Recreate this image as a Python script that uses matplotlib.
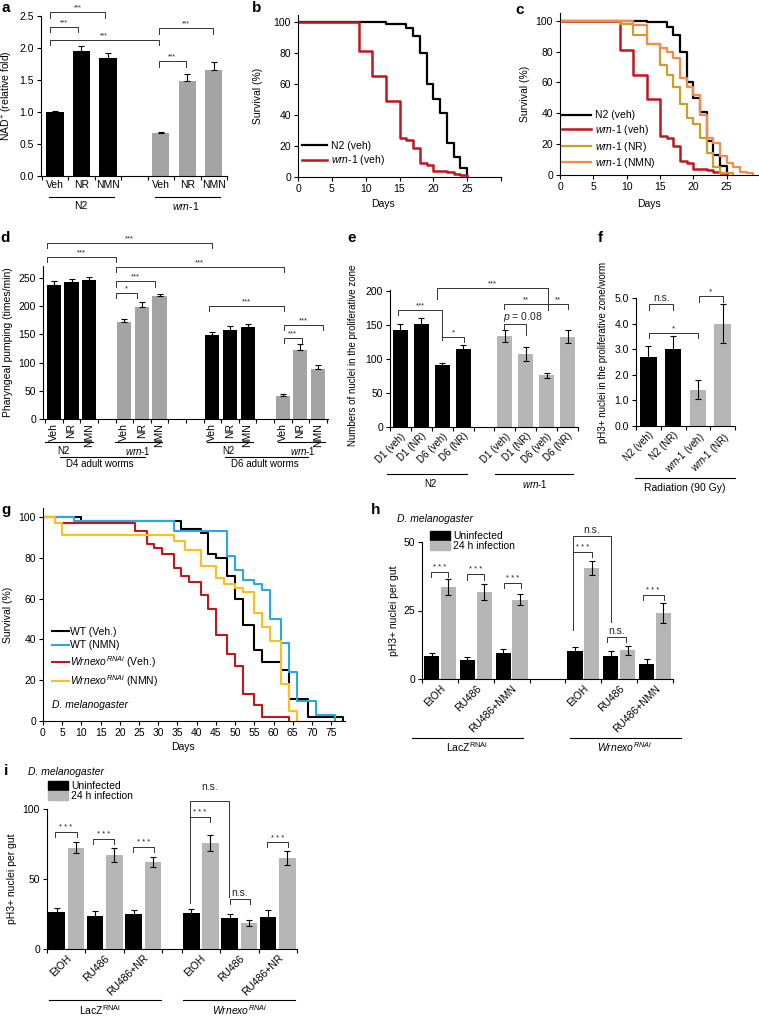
import matplotlib
matplotlib.use('Agg')
import matplotlib.pyplot as plt
import matplotlib.transforms as mtransforms
from matplotlib.lines import Line2D
from matplotlib.patches import Patch
from matplotlib.ticker import FormatStrFormatter
import numpy as np

plt.rcParams['font.family'] = ['Liberation Sans', 'DejaVu Sans']
plt.rcParams['mathtext.fontset'] = 'custom'
plt.rcParams['mathtext.rm'] = 'Liberation Sans'
plt.rcParams['mathtext.it'] = 'Liberation Sans:italic'
plt.rcParams['mathtext.bf'] = 'Liberation Sans:bold'
plt.rcParams['font.size'] = 7
plt.rcParams['axes.linewidth'] = 0.8

WRN = r'$\mathit{wrn}$-$\mathit{1}$'
WRNEXO = r'$\mathit{Wrnexo}^{RNAi}$'
LACZ = r'LacZ$^{\mathrm{RNAi}}$'

# ---- data ----
# a: NAD+ levels
a_labels = ['Veh', 'NR', 'NMN']
a_n2 = [1.0, 1.96, 1.84]
a_n2_err = [0.02, 0.07, 0.08]
a_wrn = [0.67, 1.48, 1.66]
a_wrn_err = [0.02, 0.11, 0.12]

# b/c: worm lifespan (day, % survival)
n2_days = [0, 13, 16, 17, 18, 19, 20, 21, 22, 23, 24, 25]
n2_surv = [100, 99, 96, 91, 80, 60, 50, 41, 22, 13, 6, 0]
wrn_days = [0, 9, 11, 13, 15, 16, 17, 18, 19, 20, 22, 23, 24, 25]
wrn_surv = [100, 81, 65, 49, 25, 24, 19, 9, 8, 4, 3, 2, 1, 0]
wrn_nr_days = [0, 9, 11, 13, 15, 16, 17, 18, 19, 20, 21, 22, 23, 24, 26]
wrn_nr_surv = [100, 98, 91, 85, 71, 65, 57, 46, 37, 33, 24, 14, 5, 1, 0]
wrn_nmn_days = [0, 11, 13, 15, 16, 17, 18, 19, 20, 21, 22, 23, 24, 25, 26, 27, 28, 29]
wrn_nmn_surv = [100, 97, 85, 82, 80, 76, 63, 57, 52, 39, 24, 21, 12, 8, 5, 2, 1, 0]

# d: pharyngeal pumping
d_labels = ['Veh', 'NR', 'NMN']
d4_n2 = [238, 243, 246]
d4_n2_err = [6, 5, 5]
d4_wrn = [171, 198, 217]
d4_wrn_err = [6, 9, 4]
d6_n2 = [148, 158, 163]
d6_n2_err = [6, 6, 6]
d6_wrn = [41, 123, 88]
d6_wrn_err = [4, 10, 8]

# e: nuclei in proliferative zone
e_labels = ['D1 (veh)', 'D1 (NR)', 'D6 (veh)', 'D6 (NR)']
e_n2 = [143, 151, 91, 115]
e_n2_err = [8, 10, 3, 5]
e_wrn = [134, 107, 76, 133]
e_wrn_err = [9, 10, 4, 10]

# f: pH3+ after radiation
f_labels = ['N2 (veh)', 'N2 (NR)', WRN + ' (veh)', WRN + ' (NR)']
f_vals = [2.68, 3.0, 1.42, 4.0]
f_err = [0.43, 0.53, 0.38, 0.75]

# g: fly lifespan
wt_veh_days = [0, 10, 36, 41, 43, 45, 48, 50, 52, 55, 57, 62, 64, 69, 78]
wt_veh_surv = [100, 98, 94, 92, 82, 80, 71, 60, 47, 35, 29, 25, 11, 2, 0]
wt_nmn_days = [0, 8, 34, 48, 50, 52, 55, 57, 59, 62, 64, 66, 71, 76]
wt_nmn_surv = [100, 98, 93, 81, 74, 69, 67, 64, 50, 38, 24, 10, 3, 0]
wx_veh_days = [0, 3, 24, 27, 29, 31, 34, 36, 38, 41, 43, 45, 48, 50, 52, 55, 57, 64]
wx_veh_surv = [100, 97, 93, 87, 85, 82, 75, 71, 68, 62, 55, 42, 33, 27, 13, 8, 2, 0]
wx_nmn_days = [0, 3, 5, 34, 37, 41, 45, 47, 50, 52, 55, 57, 59, 62, 64, 66]
wx_nmn_surv = [100, 97, 91, 88, 84, 76, 70, 67, 65, 63, 53, 46, 39, 18, 5, 0]

# h: pH3+ per gut (NMN)
h_labels = ['EtOH', 'RU486', 'RU486+NMN']
h_lacz_un = [8.3, 6.9, 9.5]
h_lacz_un_err = [1.2, 1.0, 1.5]
h_lacz_in = [33.5, 31.8, 29.0]
h_lacz_in_err = [2.9, 2.9, 2.0]
h_wx_un = [10.1, 8.3, 5.6]
h_wx_un_err = [1.6, 1.9, 1.6]
h_wx_in = [40.5, 10.5, 24.0]
h_wx_in_err = [2.6, 1.6, 3.6]

# i: pH3+ per gut (NR)
i_labels = ['EtOH', 'RU486', 'RU486+NR']
i_lacz_un = [26.5, 23.9, 25.3]
i_lacz_un_err = [3.0, 3.2, 2.8]
i_lacz_in = [72.5, 67.0, 62.3]
i_lacz_in_err = [4.1, 5.0, 3.6]
i_wx_un = [26.0, 22.0, 22.9]
i_wx_un_err = [2.9, 3.3, 5.2]
i_wx_in = [75.9, 18.6, 65.2]
i_wx_in_err = [5.6, 2.0, 5.0]

BLACK = '#000000'
GRAY = '#a4a4a4'
LGRAY = '#b6b6b6'
RED = '#c0161c'
GOLD = '#c9a126'
ORANGE = '#f28b4c'
BLUE = '#2aa8e0'
YELLOW = '#fdbf1c'

W, H = 759, 1016
fig = plt.figure(figsize=(W / 100, H / 100), dpi=100)
pix = mtransforms.Affine2D().scale(1 / W, -1 / H).translate(0, 1) + fig.transFigure


def add_ax(x0, y0, x1, y1):
    ax = fig.add_axes([x0 / W, 1 - y1 / H, (x1 - x0) / W, (y1 - y0) / H])
    ax.spines['top'].set_visible(False)
    ax.spines['right'].set_visible(False)
    ax.tick_params(direction='out', length=3, width=0.8, labelsize=7.5, pad=2)
    ax._px = (x0, y0, x1, y1)
    return ax


def ylab(ax, text, xpx, ypx=None):
    # xpx is the centre of the rotated label in reference pixels
    x0, y0, x1, y1 = ax._px
    ax.set_ylabel(text, fontsize=7.5)
    yc = 0.5 if ypx is None else (y1 - ypx) / (y1 - y0)
    ax.yaxis.set_label_coords((xpx + 5 - x0) / (x1 - x0), yc)


def group_axis(ax, centers, labels, bounds, rot):
    if rot == 90:
        ax.set_xticks(centers, labels, rotation=90, fontsize=7.5)
    elif rot == 45:
        ax.set_xticks(centers, labels, rotation=45, ha='right', rotation_mode='anchor', fontsize=7.5)
    else:
        ax.set_xticks(centers, labels, fontsize=7.5)
    ax.tick_params(axis='x', which='major', length=0, pad=3)
    ax.set_xticks(bounds, minor=True)
    ax.tick_params(axis='x', which='minor', length=3, width=0.8, direction='out')


def bars(ax, x, h, err, color, width, both=True):
    ax.bar(x, h, width, color=color, zorder=2)
    e = np.array(err)
    yerr = e if both else [np.zeros(len(e)), e]
    ax.errorbar(x, h, yerr=yerr, fmt='none', ecolor='black', elinewidth=0.8,
                capsize=2.4, capthick=0.8, zorder=3)


def bracket(ax, x1, x2, y, yl, yr, txt, fs=5.5, tx=None, ty=None):
    ax.plot([x1, x1, x2, x2], [yl, y, y, yr], color='#333333', lw=0.7, clip_on=False)
    if ty is None:
        ax.annotate(txt, ((x1 + x2) / 2 if tx is None else tx, y), xytext=(0, 0.5),
                    textcoords='offset points', ha='center', va='bottom', fontsize=fs,
                    color='#222222', annotation_clip=False)
    else:
        ax.text(tx, ty, txt, ha='center', va='center', fontsize=fs, color='#222222', clip_on=False)


def fline(x0, x1, y):
    fig.add_artist(Line2D([x0, x1], [y, y], transform=pix, color='black', lw=0.8))


def ftext(x, y, s, size=7.5, **kw):
    kw.setdefault('ha', 'center')
    fig.text(x, y, s, transform=pix, va='center', fontsize=size, **kw)


def letter(x, y, s):
    fig.text(x, y, s, transform=pix, ha='center', va='center', fontsize=11, fontweight='bold')


# ---- a ----
ax = add_ax(41, 16, 227, 176)
bars(ax, np.arange(3), a_n2, a_n2_err, BLACK, 0.65, both=False)
bars(ax, np.arange(4, 7), a_wrn, a_wrn_err, GRAY, 0.65, both=False)
ax.set_xlim(-0.53, 6.5)
ax.set_ylim(0, 2.5)
ax.set_yticks(np.arange(0, 2.51, 0.5))
ax.yaxis.set_major_formatter(FormatStrFormatter('%.1f'))
group_axis(ax, [0, 1, 2, 4, 5, 6], a_labels * 2, np.arange(-0.5, 6.6, 1), 0)
bracket(ax, -0.2, 1.9, 2.56, 2.47, 2.47, '***', fs=5)
bracket(ax, -0.2, 0.85, 2.33, 2.25, 2.25, '***', fs=5)
bracket(ax, -0.2, 3.92, 2.12, 2.05, 2.05, '***', fs=5)
bracket(ax, 3.92, 5.96, 2.31, 2.22, 2.22, '***', fs=5)
bracket(ax, 3.92, 4.94, 1.80, 1.71, 1.71, '***', fs=5)
ylab(ax, r'NAD$^{+}$ (relative fold)', 10)
fline(49, 114, 197)
fline(155, 220, 197)
ftext(81, 206, 'N2')
ftext(186, 206, WRN)
letter(6, 8, 'a')

# ---- b ----
ax = add_ax(298, 15, 501, 177)
ax.step(n2_days, n2_surv, where='post', color=BLACK, lw=1.6, label='N2 (veh)')
ax.step(wrn_days, wrn_surv, where='post', color=RED, lw=1.8, label=WRN + ' (veh)')
ax.set_xlim(0, 30)
ax.set_ylim(0, 104.5)
ax.set_xticks(np.arange(0, 31, 5), ['0', '5', '10', '15', '20', '25', ''])
ax.set_yticks(np.arange(0, 101, 20))
ylab(ax, 'Survival (%)', 258)
ax.legend(loc='lower left', bbox_to_anchor=(0.02, 0.06), frameon=False, fontsize=7.5,
          handlelength=2.4, handletextpad=0.4, labelspacing=0.25, borderaxespad=0, borderpad=0)
ftext(383, 204, 'Days')
letter(257, 8, 'b')

# ---- c ----
ax = add_ax(560, 13, 760, 175)
ax.step(n2_days, n2_surv, where='post', color=BLACK, lw=1.6, label='N2 (veh)')
ax.step(wrn_days, wrn_surv, where='post', color=RED, lw=1.8, label=WRN + ' (veh)')
ax.step(wrn_nr_days, wrn_nr_surv, where='post', color=GOLD, lw=1.6, label=WRN + ' (NR)')
ax.step(wrn_nmn_days, wrn_nmn_surv, where='post', color=ORANGE, lw=1.6, label=WRN + ' (NMN)')
ax.set_xlim(0, 30)
ax.set_ylim(0, 105)
ax.set_xticks(np.arange(0, 31, 5), ['0', '5', '10', '15', '20', '25', ''])
ax.set_yticks(np.arange(0, 101, 20))
ylab(ax, 'Survival (%)', 525)
ax.legend(loc='lower left', bbox_to_anchor=(0.01, 0.03), frameon=False, fontsize=7.5,
          handlelength=2.8, handletextpad=0.4, labelspacing=0.25, borderaxespad=0, borderpad=0)
ftext(649, 204, 'Days')
letter(520, 10, 'c')

# ---- d ----
ax = add_ax(43, 266, 328, 419)
bars(ax, np.arange(0, 3), d4_n2, d4_n2_err, BLACK, 0.8, both=False)
bars(ax, np.arange(4, 7), d4_wrn, d4_wrn_err, GRAY, 0.8, both=False)
bars(ax, np.arange(9, 12), d6_n2, d6_n2_err, BLACK, 0.8, both=False)
bars(ax, np.arange(13, 16), d6_wrn, d6_wrn_err, GRAY, 0.8, both=False)
ax.set_xlim(-0.62, 15.57)
ax.set_ylim(0, 271)
ax.set_yticks(np.arange(0, 251, 50))
group_axis(ax, [0, 1, 2, 4, 5, 6, 9, 10, 11, 13, 14, 15], d_labels * 4, np.arange(-0.5, 15.6, 1), 90)
bracket(ax, -0.4, 9.0, 312, 303, 303, '***', fs=5.5)
bracket(ax, -0.4, 3.52, 287, 278, 278, '***', fs=5.5)
bracket(ax, 3.52, 13.05, 269, 260, 260, '***', fs=5.5)
bracket(ax, 3.52, 5.74, 244, 234, 234, '***', fs=5.5)
bracket(ax, 3.52, 4.7, 223, 214, 214, '*', fs=5.5)
bracket(ax, 8.8, 13.05, 200, 192, 192, '***', fs=5.5)
bracket(ax, 13.05, 15.3, 167, 158, 158, '***', fs=5.5)
bracket(ax, 13.05, 14.1, 144, 134, 134, '***', fs=5.5)
ylab(ax, 'Pharyngeal pumping (times/min)', 8)
fline(45, 93, 442)
fline(115, 162, 442)
fline(207, 253, 442)
fline(278, 325, 442)
ftext(63, 451, 'N2', size=7)
ftext(138, 451, WRN, size=7)
ftext(228, 451, 'N2', size=7)
ftext(303, 451, WRN, size=7)
fline(60, 145, 457)
fline(225, 308, 457)
ftext(100, 464, 'D4 adult worms', size=7)
ftext(265, 464, 'D6 adult worms', size=7)
letter(5, 238, 'd')

# ---- e ----
ax = add_ax(390, 290, 578, 427)
bars(ax, np.arange(0, 4), e_n2, e_n2_err, BLACK, 0.72)
bars(ax, np.arange(5, 9), e_wrn, e_wrn_err, LGRAY, 0.72)
ax.set_xlim(-0.48, 8.5)
ax.set_ylim(0, 201.5)
ax.set_yticks(np.arange(0, 201, 50))
group_axis(ax, [0, 1, 2, 3, 5, 6, 7, 8], e_labels * 2, np.arange(-0.5, 8.6, 1), 45)
ax.tick_params(axis='x', which='major', labelsize=7)
bracket(ax, -0.1, 2.0, 172, 165, 128, '***', fs=5.5)
bracket(ax, 2.0, 3.05, 132, 132, 125, '*', fs=5.5)
bracket(ax, 1.76, 7.05, 205, 188, 172, '***', fs=5.5)
bracket(ax, 4.95, 7.05, 181, 173, 173, '**', fs=5.5)
bracket(ax, 7.05, 8.0, 181, 181, 173, '**', fs=5.5)
bracket(ax, 4.95, 6.0, 151, 144, 135, r'$p$ = 0.08', fs=7.5, tx=5.85)
ylab(ax, 'Numbers of nuclei in the proliferative zone', 353, 355)
ax.yaxis.label.set_fontsize(7)
fline(387, 467, 474)
fline(495, 573, 474)
ftext(430, 484, 'N2', size=7)
ftext(535, 484, WRN, size=7)
letter(352, 238, 'e')

# ---- f ----
ax = add_ax(636, 298, 735, 426)
bars(ax, np.arange(4), f_vals, f_err, [BLACK, BLACK, LGRAY, LGRAY], 0.66)
ax.set_xlim(-0.5, 3.5)
ax.set_ylim(0, 5.0)
ax.set_yticks(np.arange(0, 5.01, 1.0))
ax.yaxis.set_major_formatter(FormatStrFormatter('%.1f'))
group_axis(ax, np.arange(4), f_labels, np.arange(-0.5, 3.6, 1), 45)
ax.tick_params(axis='x', which='major', labelsize=7)
bracket(ax, 0.04, 1.0, 4.77, 4.53, 4.53, 'n.s.', fs=7.5)
bracket(ax, 0.04, 2.0, 3.63, 3.44, 3.44, '*', fs=6)
bracket(ax, 2.05, 3.0, 5.08, 4.84, 4.84, '*', fs=6)
ylab(ax, 'pH3+ nuclei in the proliferative zone/worm', 603, 352)
ax.yaxis.label.set_fontsize(7)
fline(635, 735, 478)
ftext(685, 488, 'Radiation (90 Gy)', size=7.5)
letter(600, 238, 'f')

# ---- g ----
ax = add_ax(43, 508, 345, 721)
ax.step(wt_veh_days, wt_veh_surv, where='post', color=BLACK, lw=1.5, label='WT (Veh.)')
ax.step(wt_nmn_days, wt_nmn_surv, where='post', color=BLUE, lw=1.5, label='WT (NMN)')
ax.step(wx_veh_days, wx_veh_surv, where='post', color=RED, lw=1.5, label=WRNEXO + ' (Veh.)')
ax.step(wx_nmn_days, wx_nmn_surv, where='post', color=YELLOW, lw=1.5, label=WRNEXO + ' (NMN)')
ax.set_xlim(0, 78.6)
ax.set_ylim(0, 104.4)
ax.set_xticks(np.arange(0, 76, 5))
ax.set_yticks(np.arange(0, 101, 20))
ylab(ax, 'Survival (%)', 8)
ax.legend(loc='lower left', bbox_to_anchor=(0.03, 0.15), frameon=False, fontsize=7.5,
          handlelength=1.6, handletextpad=0.1, labelspacing=0.35, borderaxespad=0, borderpad=0)
ftext(52, 705, 'D. melanogaster', size=7.5, ha='left', style='italic')
ftext(183, 747, 'Days')
letter(6, 510, 'g')

# ---- h ----
ax = add_ax(422, 542, 673, 679)
hc = np.array([0, 1, 2, 4, 5, 6])
bars(ax, hc - 0.235, h_lacz_un + h_wx_un, h_lacz_un_err + h_wx_un_err, BLACK, 0.43)
bars(ax, hc + 0.235, h_lacz_in + h_wx_in, h_lacz_in_err + h_wx_in_err, LGRAY, 0.43)
ax.set_xlim(-0.5, 6.5)
ax.set_ylim(0, 50)
ax.set_yticks([0, 25, 50])
group_axis(ax, hc, h_labels * 2, [-0.5, 0.5, 1.5, 2.5, 3.5, 4.5, 5.5, 6.5], 45)
bracket(ax, -0.25, 0.22, 39.0, 37.2, 37.2, '* * *', fs=5.5)
bracket(ax, 0.75, 1.22, 38.3, 36.1, 36.1, '* * *', fs=5.5)
bracket(ax, 1.80, 2.26, 35.1, 33.2, 33.2, '* * *', fs=5.5)
bracket(ax, 3.71, 4.24, 46.4, 46.4, 44.5, '* * *', fs=5.5)
bracket(ax, 3.71, 4.77, 52.2, 18.0, 20.8, 'n.s.', fs=7.5)
bracket(ax, 4.67, 5.20, 15.3, 13.5, 13.5, 'n.s.', fs=7.5)
bracket(ax, 5.65, 6.24, 30.7, 28.9, 28.9, '* * *', fs=5.5)
ylab(ax, 'pH3+ nuclei per gut', 394)
ax.legend([Patch(color=BLACK), Patch(color=LGRAY)], ['Uninfected', '24 h infection'],
          loc='upper left', bbox_to_anchor=(0.032, 1.08), frameon=False, fontsize=7.5,
          handlelength=1.9, handleheight=0.95, handletextpad=0.35, labelspacing=0.0,
          borderaxespad=0, borderpad=0)
ftext(397, 519, 'D. melanogaster', size=7.5, ha='left', style='italic')
fline(412, 523, 738)
fline(570, 681, 738)
ftext(467, 747, LACZ)
ftext(625, 747, WRNEXO)
letter(376, 510, 'h')

# ---- i ----
ax = add_ax(47, 809, 297, 949)
ic = np.array([0, 1, 2, 3.5, 4.5, 5.5])
bars(ax, ic - 0.25, i_lacz_un + i_wx_un, i_lacz_un_err + i_wx_un_err, BLACK, 0.43)
bars(ax, ic + 0.25, i_lacz_in + i_wx_in, i_lacz_in_err + i_wx_in_err, LGRAY, 0.43)
ax.set_xlim(-0.5, 6.0)
ax.set_ylim(0, 100)
ax.set_yticks([0, 50, 100])
group_axis(ax, ic, i_labels * 2, [-0.5, 0.5, 1.5, 2.5, 3.0, 4.0, 5.0, 6.0], 45)
bracket(ax, -0.30, 0.27, 83.8, 80.2, 80.2, '* * *', fs=5.5)
bracket(ax, 0.70, 1.25, 78.6, 74.8, 74.8, '* * *', fs=5.5)
bracket(ax, 1.73, 2.27, 73.0, 69.0, 69.0, '* * *', fs=5.5)
bracket(ax, 3.22, 3.73, 94.5, 94.5, 90.5, '* * *', fs=5.5)
bracket(ax, 3.22, 4.24, 106, 32.8, 37.4, 'n.s.', fs=7.5, tx=3.73, ty=115.7)
bracket(ax, 4.25, 4.77, 35.7, 32.1, 32.1, 'n.s.', fs=7.5)
bracket(ax, 5.23, 5.77, 76.2, 72.6, 72.6, '* * *', fs=5.5)
ylab(ax, 'pH3+ nuclei per gut', 12)
ax.legend([Patch(color=BLACK), Patch(color=LGRAY)], ['Uninfected', '24 h infection'],
          loc='upper left', bbox_to_anchor=(0.004, 1.2), frameon=False, fontsize=7.5,
          handlelength=1.9, handleheight=0.95, handletextpad=0.35, labelspacing=0.0,
          borderaxespad=0, borderpad=0)
ftext(28, 772, 'D. melanogaster', size=7.5, ha='left', style='italic')
fline(49, 161, 1000)
fline(183, 295, 1000)
ftext(100, 1010, LACZ)
ftext(240, 1010, WRNEXO)
letter(6, 771, 'i')

fig.savefig('out.png', dpi=100)
